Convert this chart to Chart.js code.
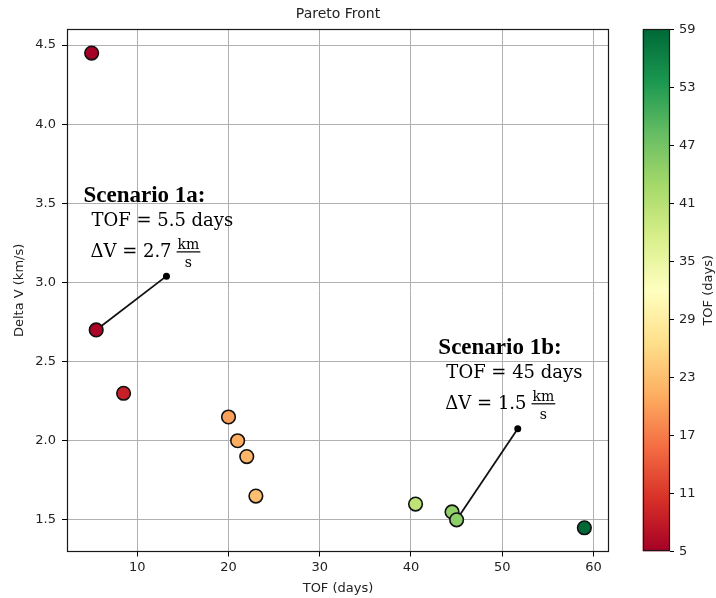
<!DOCTYPE html>
<html>
<head>
<meta charset="utf-8">
<script src="https://cdn.jsdelivr.net/npm/chart.js@4.4.1/dist/chart.umd.min.js"></script>
<style>
  body { margin: 0; background: #fff; }
  #wrap { position: relative; width: 716px; height: 598px; }
  canvas { position: absolute; top: 0; }
  #main { left: 0; }
  #cbar { left: 620px; }
</style>
</head>
<body>
<div id="wrap">
  <canvas id="main" width="630" height="598"></canvas>
  <canvas id="cbar" width="96" height="598"></canvas>
</div>
<script>
// pareto points
const tof    = [5,    5.5, 8.5, 20,   21,  22,  23,   40.5, 44.5, 45,  59];
const deltaV = [4.45, 2.7, 2.3, 2.15, 2.0, 1.9, 1.65, 1.6,  1.55, 1.5, 1.45];

// colorbar
const cbTicks = [5, 11, 17, 23, 29, 35, 41, 47, 53, 59];
const rdylgn = ['#a50026','#d73027','#f46d43','#fdae61','#fee08b','#ffffbf','#d9ef8b','#a6d96a','#66bd63','#1a9850','#006837'];

// annotations
const scenNames = ['Scenario 1a:', 'Scenario 1b:'];
const scenTof   = ['5.5', '45'];
const scenDv    = ['2.7', '1.5'];
const scenPoint = [[5.5, 2.7], [45, 1.5]];
const scenDot   = [[13.2, 3.04], [51.7, 2.075]];
const scenText  = [[4.1, 3.51], [43.0, 2.55]];

const cmin = 5, cmax = 59;

function hexRgb(h) {
  return [parseInt(h.substr(1,2),16), parseInt(h.substr(3,2),16), parseInt(h.substr(5,2),16)];
}
function cmap(v) {
  let t = (v - cmin) / (cmax - cmin);
  t = Math.max(0, Math.min(1, t)) * (rdylgn.length - 1);
  const i = Math.min(Math.floor(t), rdylgn.length - 2);
  const f = t - i;
  const a = hexRgb(rdylgn[i]), b = hexRgb(rdylgn[i+1]);
  const c = a.map((x, k) => Math.round(x + (b[k] - x) * f));
  return 'rgb(' + c.join(',') + ')';
}

Chart.defaults.font.family = 'DejaVu Sans';
Chart.defaults.color = '#222';

const framePlugin = {
  id: 'frame',
  afterDatasetsDraw(chart) {
    const {ctx, chartArea: a} = chart;
    const l = Math.round(a.left), t = Math.round(a.top);
    const r = Math.round(a.right), b = Math.round(a.bottom);
    ctx.save();
    ctx.strokeStyle = '#1a1a1a';
    ctx.lineWidth = 1.2;
    ctx.strokeRect(l + 0.5, t + 0.5, r - l - 1, b - t - 1);
    ctx.restore();
  }
};

const annoPlugin = {
  id: 'anno',
  afterDraw(chart) {
    const {ctx, scales: {x, y}} = chart;
    ctx.save();
    ctx.fillStyle = '#000';
    ctx.textBaseline = 'alphabetic';
    ctx.textAlign = 'left';
    scenNames.forEach((name, i) => {
      const px = x.getPixelForValue(scenText[i][0]);
      const py = y.getPixelForValue(scenText[i][1]);
      ctx.font = 'bold 23px "Liberation Serif"';
      ctx.fillText(name, px, py);
      ctx.font = '18px "DejaVu Serif"';
      ctx.fillText('TOF = ' + scenTof[i] + ' days', px + 8, py + 24);
      const dvTxt = '\u0394V = ' + scenDv[i];
      ctx.fillText(dvTxt, px + 7, py + 55);
      const w = ctx.measureText(dvTxt).width;
      ctx.font = '14px "DejaVu Serif"';
      const fw = ctx.measureText('km').width;
      const fx = px + 7 + w + 6;
      ctx.fillText('km', fx, py + 47);
      ctx.fillRect(fx - 1, py + 49.5, fw + 2, 1.2);
      ctx.textAlign = 'center';
      ctx.fillText('s', fx + fw / 2, py + 65);
      ctx.textAlign = 'left';
    });
    ctx.restore();
  }
};

const datasets = [{
  type: 'scatter',
  data: tof.map((t, i) => ({x: t, y: deltaV[i]})),
  pointRadius: 6.8,
  pointBorderWidth: 1.6,
  pointBorderColor: '#111',
  pointBackgroundColor: tof.map(cmap),
  order: 0
}];
scenPoint.forEach((p, i) => {
  datasets.push({
    type: 'line',
    data: [{x: p[0], y: p[1]}, {x: scenDot[i][0], y: scenDot[i][1]}],
    borderColor: '#111',
    borderWidth: 1.8,
    pointRadius: [0, 3.5],
    pointBackgroundColor: '#000',
    pointBorderWidth: 0,
    showLine: true,
    order: 1
  });
});

new Chart(document.getElementById('main'), {
  type: 'scatter',
  data: {datasets},
  options: {
    responsive: false,
    animation: false,
    layout: {padding: {left: 0, right: 21, top: 0, bottom: 0}},
    plugins: {
      legend: {display: false},
      tooltip: {enabled: false},
      title: {
        display: true, text: 'Pareto Front', fullSize: false,
        font: {size: 14, weight: 'normal'}, color: '#222',
        padding: {top: 6, bottom: 6.5}
      }
    },
    scales: {
      x: {
        type: 'linear', min: 2.3, max: 61.7,
        ticks: {stepSize: 10, includeBounds: false, padding: 3, font: {size: 13}, color: '#222'},
        grid: {color: '#b0b0b0', lineWidth: 1, tickLength: 5, tickColor: '#000'},
        border: {display: false},
        title: {display: true, text: 'TOF (days)', font: {size: 13}, color: '#222', padding: {top: 2, bottom: 2}},
        afterFit: s => { s.height = 46.5; }
      },
      y: {
        type: 'linear', min: 1.3, max: 4.6,
        ticks: {stepSize: 0.5, includeBounds: false, padding: 6, font: {size: 13}, color: '#222',
          callback: v => v.toFixed(1)},
        grid: {color: '#b0b0b0', lineWidth: 1, tickLength: 5, tickColor: '#000'},
        border: {display: false},
        title: {display: true, text: 'Delta V (km/s)', font: {size: 13}, color: '#222', padding: {top: 12, bottom: 2}},
        afterFit: s => { s.width = 67; }
      }
    }
  },
  plugins: [framePlugin, annoPlugin]
});

const gradPlugin = {
  id: 'grad',
  beforeDatasetsDraw(chart) {
    const {ctx, chartArea: a} = chart;
    const g = ctx.createLinearGradient(0, a.bottom, 0, a.top);
    rdylgn.forEach((c, i) => g.addColorStop(i / (rdylgn.length - 1), c));
    ctx.save();
    ctx.fillStyle = g;
    ctx.fillRect(a.left, a.top, a.right - a.left, a.bottom - a.top);
    ctx.restore();
  },
  afterDraw(chart) {
    const {ctx, chartArea: a} = chart;
    ctx.save();
    ctx.fillStyle = '#222';
    ctx.font = '13px "DejaVu Sans"';
    ctx.textAlign = 'center';
    ctx.textBaseline = 'middle';
    ctx.translate(89, (a.top + a.bottom) / 2);
    ctx.rotate(-Math.PI / 2);
    ctx.fillText('TOF (days)', 0, 0);
    ctx.restore();
  }
};

new Chart(document.getElementById('cbar'), {
  type: 'scatter',
  data: {datasets: [{data: []}]},
  options: {
    responsive: false,
    animation: false,
    layout: {padding: {left: 22.7, right: 0, top: 29.3, bottom: 46.7}},
    plugins: {legend: {display: false}, tooltip: {enabled: false}},
    scales: {
      x: {display: false, min: 0, max: 1},
      y: {
        position: 'right', min: cmin, max: cmax,
        afterBuildTicks: s => { s.ticks = cbTicks.map(v => ({value: v})); },
        ticks: {padding: 5, font: {size: 13}, color: '#222'},
        grid: {drawOnChartArea: false, tickLength: 4, tickColor: '#000'},
        border: {display: false},
        afterFit: s => { s.width = 46; }
      }
    }
  },
  plugins: [gradPlugin, framePlugin]
});
</script>
</body>
</html>
